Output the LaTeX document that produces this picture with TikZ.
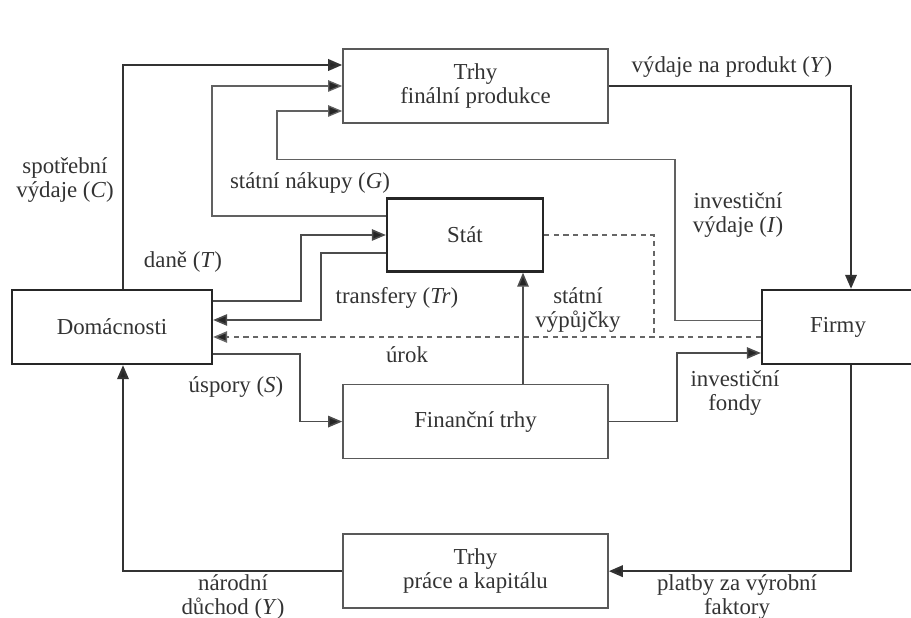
\documentclass[tikz,border=0pt]{standalone}
\usepackage{fontspec}
\setmainfont{Liberation Serif}
\usetikzlibrary{arrows.meta,positioning}

\begin{document}
\begin{tikzpicture}
        [box/.style={rectangle, draw=black!65, line width=0.9pt, minimum width=5.3cm, minimum height=1.48cm, align=center},
        sector/.style={box, draw=black!85, line width=1.3pt},
        tip/.style={-{Triangle[length=8pt,width=6.5pt,fill=black!85]}},
        flow/.style={tip, line width=1.3pt, black!80},
        midflow/.style={tip, line width=0.9pt, black!70},
        thinflow/.style={tip, line width=0.75pt, black!62},
        interest/.style={line width=0.9pt, black!60, dash pattern=on 3pt off 2.5pt},
        every node/.style={font=\fontsize{13}{14}\selectfont, text=black!80}]
        \useasboundingbox (0,0) rectangle (18.22,12.36);
        % boxes
        \node[box] (final) at (9.51,10.64) {Trhy\\finální produkce};
        \node[box, below=5.2cm of final] (finance) {Finanční trhy};
        \node[box, below=1.48cm of finance] (labour) {Trhy\\práce a kapitálu};
        \node[sector, minimum width=3.12cm, minimum height=1.46cm] (stat) at (9.30,7.66) {Stát};
        \node[sector, minimum width=4cm] (home) at (2.24,5.82) {Domácnosti};
        \node[sector, minimum width=3.04cm] (firm) at (16.76,5.82) {Firmy};
        % labels
        \node[align=center] (lC) at (1.30,8.76) {spotřební\\výdaje (\textit{C})};
        \node (lT) at (3.66,7.12) {daně (\textit{T})};
        \node (lG) at (6.20,8.70) {státní nákupy (\textit{G})};
        \node (lTr) at (7.94,6.40) {transfery (\textit{Tr})};
        \node (lr) at (8.14,5.26) {úrok};
        \node (lS) at (4.72,4.62) {úspory (\textit{S})};
        \node[align=center] (lYh) at (4.66,0.42) {národní\\důchod (\textit{Y})};
        \node (lY) at (14.64,11.02) {výdaje na produkt (\textit{Y})};
        \node[align=center] (lI) at (14.76,8.06) {investiční\\výdaje (\textit{I})};
        \node[align=center] (lB) at (11.56,6.16) {státní\\výpůjčky};
        \node[align=center] (lF) at (14.70,4.50) {investiční\\fondy};
        \node[align=center] (lP) at (14.74,0.42) {platby za výrobní\\faktory};
        % outer loop
        \draw[flow] ([xshift=0.22cm]home.north) |- ([yshift=0.42cm]final.west);
        \draw[flow] (final.east) -| ([xshift=0.26cm]firm.north);
        \draw[flow] ([xshift=0.26cm]firm.south) |- (labour.east);
        \draw[flow] (labour.west) -| ([xshift=0.22cm]home.south);
        % spending on final goods
        \draw[thinflow] ([yshift=0.38cm]stat.west) -- ++(-3.48cm,0) |- (final.west);
        \draw[thinflow] ([yshift=0.13cm]firm.west) -- ++(-1.72cm,0) -- ++(0,3.22cm) -- ++(-7.96cm,0) |- ([yshift=-0.5cm]final.west);
        % state
        \draw[midflow] ([yshift=0.52cm]home.east) -- ++(1.76cm,0) |- (stat.west);
        \draw[midflow] ([yshift=-0.36cm]stat.west) -- ++(-1.3cm,0) |- ([yshift=0.14cm]home.east);
        \draw[midflow] ([xshift=0.95cm]finance.north) -- ([xshift=1.16cm]stat.south);
        % savings and investment funds
        \draw[midflow] ([yshift=-0.54cm]home.east) -- ++(1.74cm,0) |- (finance.west);
        \draw[midflow] (finance.east) -- ++(1.36cm,0) |- ([yshift=-0.52cm]firm.west);
        % interest
        \draw[interest, tip] ([yshift=-0.2cm]firm.west) -- ([yshift=-0.2cm]home.east);
        \draw[interest] (stat.east) -- ++(2.2cm,0) -- ++(0,-2.04cm);
    \end{tikzpicture}
\end{document}
